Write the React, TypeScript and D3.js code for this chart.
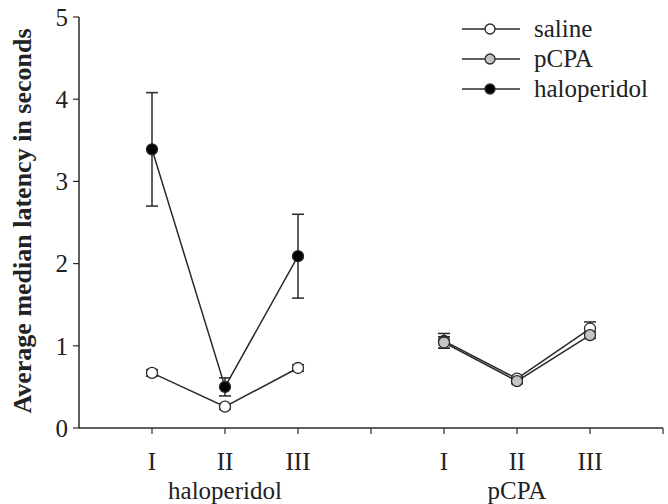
import React from "react";
import * as d3 from "d3";

const positions = [1, 2, 3, 5, 6, 7];
const tickLabels = ["I", "II", "III", "I", "II", "III"];
const groupLabels = ["haloperidol", "pCPA"];
const groupCenters = [2, 6];
const yTicks = [0, 1, 2, 3, 4, 5];

// haloperidol group (x positions 1..3)
const salineHalo = [0.67, 0.26, 0.73];
const salineHaloErr = [0.04, 0.03, 0.04];
const haloperidol = [3.39, 0.5, 2.09];
const haloperidolErr = [0.69, 0.11, 0.51];
// pCPA group (x positions 5..7)
const salinePcpa = [1.06, 0.6, 1.21];
const salinePcpaErr = [0.09, 0.03, 0.08];
const pcpa = [1.04, 0.57, 1.13];
const pcpaErr = [0.07, 0.03, 0.04];

const legendItems = [
  { label: "saline", fill: "#ffffff" },
  { label: "pCPA", fill: "#c4c4c4" },
  { label: "haloperidol", fill: "#000000" },
];

const FONT = "'Liberation Serif', 'Times New Roman', serif";

export default function App() {
  const W = 668, H = 504;
  const x = d3.scaleLinear().domain([0, 8]).range([79, 663]);
  const y = d3.scaleLinear().domain([0, 5]).range([428, 17]);
  const line = d3.line<[number, number]>().x((d) => x(d[0])).y((d) => y(d[1]));
  const stroke = "#2a2a2a";
  const fs = 25;

  const series = [
    { xs: [1, 2, 3], v: salineHalo, e: salineHaloErr, fill: "#ffffff" },
    { xs: [1, 2, 3], v: haloperidol, e: haloperidolErr, fill: "#000000" },
    { xs: [5, 6, 7], v: salinePcpa, e: salinePcpaErr, fill: "#ffffff" },
    { xs: [5, 6, 7], v: pcpa, e: pcpaErr, fill: "#c4c4c4" },
  ];

  return (
    <svg width={W} height={H} style={{ position: "absolute", left: 0, top: 0, background: "#fff" }} fontFamily={FONT}>
      {/* axes */}
      <line x1={x(0)} x2={x(0)} y1={y(5)} y2={y(0)} stroke={stroke} strokeWidth={1.5} />
      <line x1={x(0)} x2={x(8)} y1={y(0)} y2={y(0)} stroke={stroke} strokeWidth={1.5} />
      {yTicks.map((t) => (
        <g key={"y" + t}>
          <line x1={x(0) - 6} x2={x(0)} y1={y(t)} y2={y(t)} stroke={stroke} strokeWidth={1.2} />
          <text x={x(0) - 11} y={y(t)} dy="0.35em" textAnchor="end" fontSize={fs} fill="#222">{t}</text>
        </g>
      ))}
      {d3.range(1, 9).map((t) => (
        <line key={"xt" + t} x1={x(t)} x2={x(t)} y1={y(0)} y2={y(0) + 6} stroke={stroke} strokeWidth={1.2} />
      ))}
      {positions.map((p, i) => (
        <text key={"xl" + i} x={x(p)} y={470} textAnchor="middle" fontSize={fs} fill="#222">{tickLabels[i]}</text>
      ))}
      {groupLabels.map((g, i) => (
        <text key={"g" + i} x={x(groupCenters[i])} y={499} textAnchor="middle" fontSize={fs} fill="#222">{g}</text>
      ))}
      <text transform={`translate(31,221) rotate(-90)`} textAnchor="middle" fontSize={26} fontWeight="bold" fill="#222">
        Average median latency in seconds
      </text>

      {/* series */}
      {series.map((s, si) => {
        const pts: [number, number][] = s.xs.map((xv, i) => [xv, s.v[i]]);
        return (
          <g key={"s" + si}>
            <path d={line(pts) || ""} fill="none" stroke={stroke} strokeWidth={1.5} />
            {pts.map((p, i) => (
              <g key={i}>
                <line x1={x(p[0])} x2={x(p[0])} y1={y(p[1] + s.e[i])} y2={y(p[1] - s.e[i])} stroke={stroke} strokeWidth={1.5} />
                <line x1={x(p[0]) - 6} x2={x(p[0]) + 6} y1={y(p[1] + s.e[i])} y2={y(p[1] + s.e[i])} stroke={stroke} strokeWidth={1.5} />
                <line x1={x(p[0]) - 6} x2={x(p[0]) + 6} y1={y(p[1] - s.e[i])} y2={y(p[1] - s.e[i])} stroke={stroke} strokeWidth={1.5} />
              </g>
            ))}
            {pts.map((p, i) => (
              <circle key={"c" + i} cx={x(p[0])} cy={y(p[1])} r={5.5} fill={s.fill} stroke={stroke} strokeWidth={1.3} />
            ))}
          </g>
        );
      })}

      {/* legend */}
      {legendItems.map((it, i) => {
        const ly = 29 + i * 30;
        return (
          <g key={"lg" + i}>
            <line x1={462} x2={520} y1={ly} y2={ly} stroke={stroke} strokeWidth={1.5} />
            <circle cx={490} cy={ly} r={5} fill={it.fill} stroke={stroke} strokeWidth={1.3} />
            <text x={534} y={ly} dy="0.32em" fontSize={fs} fill="#222">{it.label}</text>
          </g>
        );
      })}
    </svg>
  );
}
